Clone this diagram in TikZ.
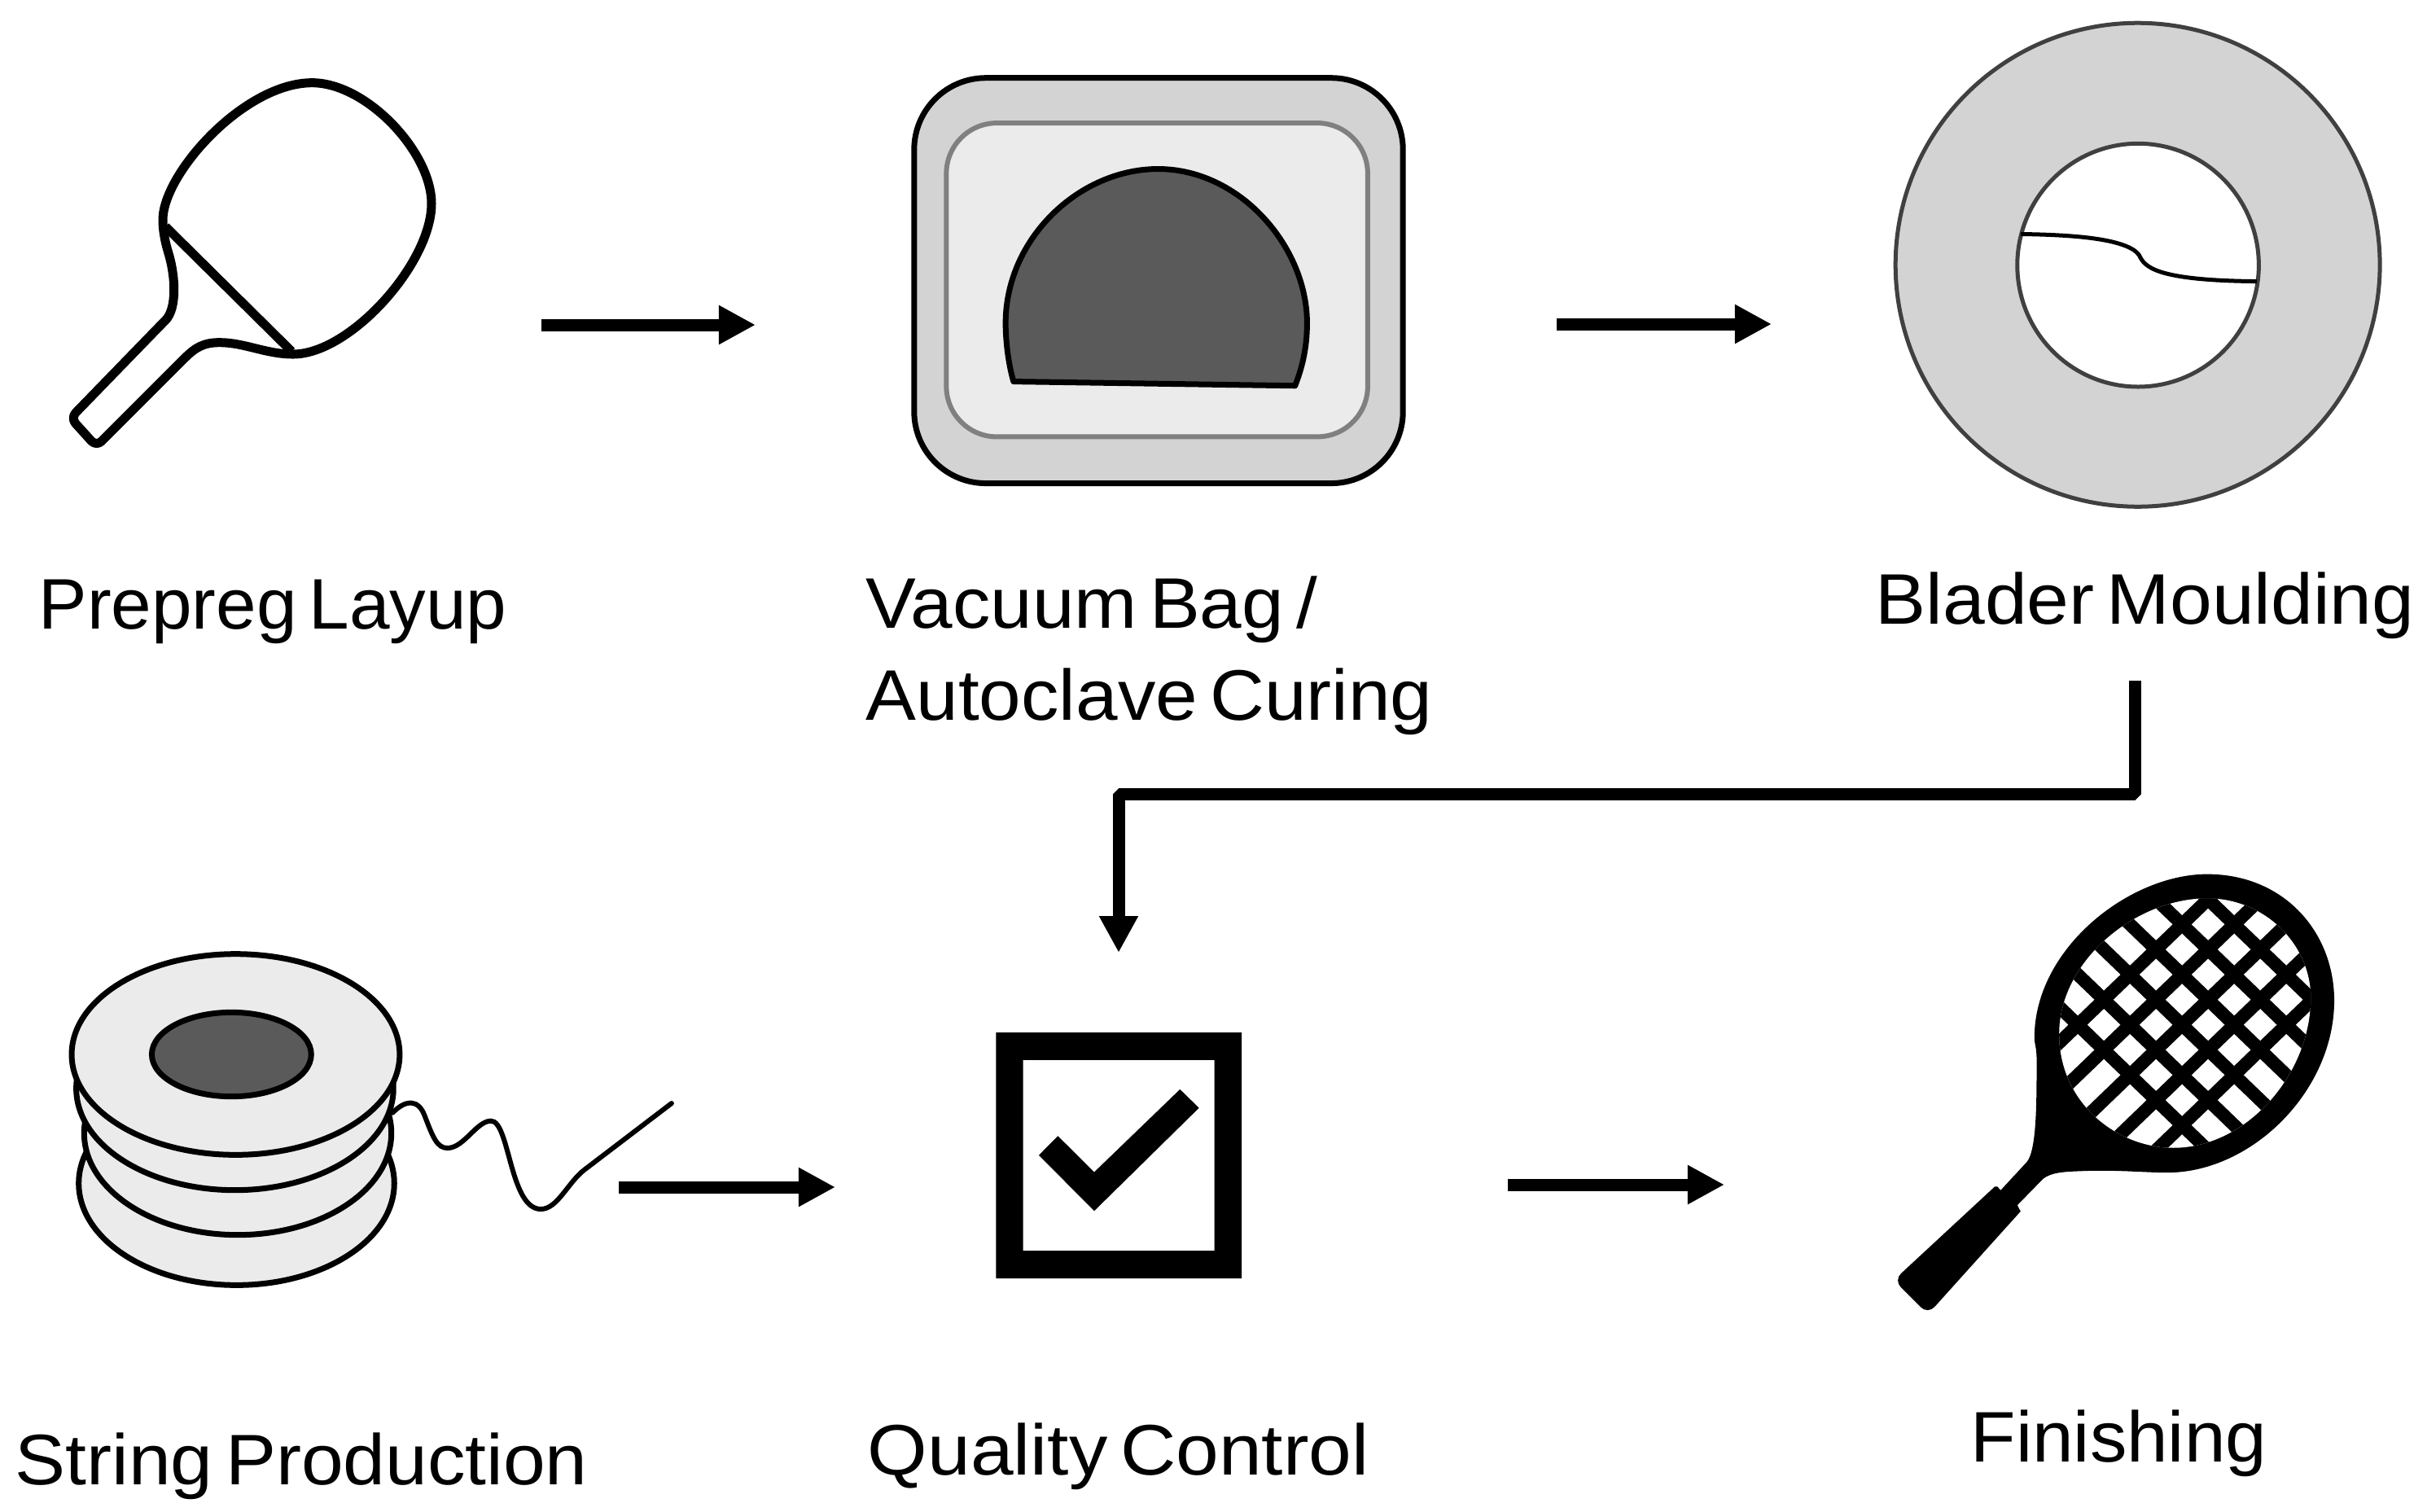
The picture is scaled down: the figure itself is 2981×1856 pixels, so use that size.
\documentclass[tikz,border=0pt]{standalone}
\usepackage{graphicx}
\usepackage{fontspec}
\setmainfont[WordSpace=0.6]{Liberation Sans}
\usetikzlibrary{arrows.meta}
\definecolor{ringgrey}{HTML}{D3D3D3}
\definecolor{palegrey}{HTML}{EBEBEB}
\definecolor{darkfill}{HTML}{5A5A5A}
\definecolor{midline}{HTML}{808080}
\definecolor{ringline}{HTML}{404040}
\newcommand{\lblwide}[2]{\scalebox{#1}[1]{#2}}
\tikzset{
  flowarrow/.style={line width=0.15cm,-{Triangle[length=0.45cm,width=0.45cm]}},
  label/.style={anchor=base west,inner sep=0pt,font=\fontsize{25}{32}\selectfont},
  outline/.style={draw=black,line join=round},
}
\begin{document}
\begin{tikzpicture}[x=0.01cm,y=-0.01cm]
\useasboundingbox (0,0) rectangle (2981,1856);
\fill[white] (0,0) rectangle (2981,1856);

% Prepreg paddle
\begin{scope}[shift={(50,70)},x={0.01cm/3},y={-0.01cm/3}]
\draw[outline,line width=0.11cm] (440,990) .. controls (505,925) and (495,800) .. (470,720) .. controls (458,680) and (450,640) .. (450,600)
 .. controls (450,430) and (750,95) .. (1000,95)
 .. controls (1200,95) and (1440,350) .. (1440,540)
 .. controls (1440,760) and (1140,1095) .. (930,1095)
 .. controls (830,1095) and (750,1052) .. (660,1052)
 .. controls (600,1052) and (570,1070) .. (530,1110)
 [rounded corners=0.09cm] -- (205,1435) -- (110,1330) -- cycle;
\draw[line width=0.11cm] (460,625) -- (925,1085);
\end{scope}

% Vacuum bag
\begin{scope}[shift={(1090,68)},x={0.01cm/2.376},y={-0.01cm/2.888}]
\draw[fill=ringgrey,line width=0.07cm,rounded corners=0.88cm] (78,80) rectangle (1505,1518);
\draw[draw=midline,fill=palegrey,line width=0.06cm,rounded corners=0.62cm] (172,240) rectangle (1402,1353);
\draw[outline,fill=darkfill,line width=0.07cm] (368,1157) .. controls (352,1090) and (345,1010) .. (345,950)
 .. controls (345,650) and (560,403) .. (790,403)
 .. controls (1030,403) and (1225,680) .. (1225,950)
 .. controls (1225,1040) and (1210,1110) .. (1190,1172) -- cycle;
\end{scope}

% Bladder moulding ring
\begin{scope}[shift={(2300,0)},x={0.01cm/2.306},y={-0.01cm/2.41}]
\draw[fill=ringgrey,draw=ringline,line width=0.05cm] (751,784) ellipse [x radius=686,y radius=716];
\draw[fill=white,draw=ringline,line width=0.05cm] (752,785) ellipse [x radius=342,y radius=360];
\draw[line width=0.05cm] (420,693) .. controls (560,695) and (720,705) .. (755,755) .. controls (770,790) and (800,830) .. (1088,833);
\end{scope}

% String spool
\begin{scope}[shift={(60,1140)},x={0.01cm/1.96},y={-0.01cm/3}]
\draw[fill=palegrey,line width=0.07cm] (452,940) ellipse [x radius=380,y radius=375];
\draw[fill=palegrey,line width=0.07cm] (455,755) ellipse [x radius=370,y radius=375];
\draw[fill=palegrey,line width=0.07cm] (448,590) ellipse [x radius=382,y radius=375];
\draw[fill=palegrey,line width=0.07cm] (450,465) ellipse [x radius=395,y radius=370];
\draw[fill=darkfill,line width=0.07cm] (440,465) ellipse [x radius=192,y radius=155];
\draw[line width=0.06cm,line cap=round] (828,680) .. controls (860,630) and (890,630) .. (905,690)
 .. controls (925,770) and (935,810) .. (960,810)
 .. controls (1000,810) and (1030,710) .. (1065,710)
 .. controls (1110,710) and (1110,1035) .. (1185,1035)
 .. controls (1225,1035) and (1250,937) .. (1290,890)
 -- (1500,645);
\end{scope}

% Quality control check box
\begin{scope}[shift={(1200,950)},x={0.01cm/3},y={-0.01cm/2.41}]
\fill[even odd rule] (70,767) rectangle (975,1495) (170,848) rectangle (875,1413);
\fill (228,1130) -- (298,1073) -- (432,1180) -- (748,935) -- (818,990) -- (432,1295) -- cycle;
\end{scope}

% Finished racket
\begin{scope}[shift={(2300,1050)},x={0.01cm/2.53},y={-0.01cm/2.627}]
\fill (480,990) .. controls (510,950) and (510,800) .. (510,660) .. controls (510,620) and (503,610) .. (503,590)
 .. controls (503,300) and (800,62) .. (1040,62)
 .. controls (1280,62) and (1435,250) .. (1435,470)
 .. controls (1435,760) and (1180,1025) .. (915,1025)
 .. controls (850,1025) and (750,1015) .. (650,1020)
 .. controls (590,1022) and (555,1025) .. (530,1045)
 -- (450,1130) -- (460,1150) [rounded corners=0.12cm] -- (172,1482) -- (66,1372) [sharp corners] -- (380,1070) -- (388,1070) -- (398,1082) -- cycle;
\begin{scope}
\path[clip] (1040,140) .. controls (1220,140) and (1362,290) .. (1362,460)
 .. controls (1362,710) and (1160,945) .. (935,945)
 .. controls (760,945) and (580,800) .. (580,578)
 .. controls (580,340) and (820,140) .. (1040,140) -- cycle;
\fill[white] (500,100) rectangle (1450,1000);
\foreach \c in {1186,1348,1510,1672,1834} \draw[line width=0.16cm] (500,{\c-500}) -- (1450,{\c-1450});
\foreach \d in {90,252,414,576,738,900} \draw[line width=0.16cm] (500,{500-\d}) -- (1450,{1450-\d});
\end{scope}
\end{scope}

% Connector ends
\coordinate (layupOut) at (665,399);
\coordinate (bagIn) at (928,399);
\coordinate (bagOut) at (1912,398);
\coordinate (bladderIn) at (2176,398);
\coordinate (bladderOut) at (2622,836);
\coordinate (elbowA) at (2622,975);
\coordinate (elbowB) at (1374,975);
\coordinate (qcTop) at (1374,1170);
\coordinate (stringOut) at (760,1458);
\coordinate (qcLeft) at (1026,1458);
\coordinate (qcOut) at (1852,1455);
\coordinate (finishIn) at (2118,1455);

\draw[flowarrow] (layupOut) -- (bagIn);
\draw[flowarrow] (bagOut) -- (bladderIn);
\draw[flowarrow,line join=bevel] (bladderOut) -- (elbowA) -- (elbowB) -- (qcTop);
\draw[flowarrow] (stringOut) -- (qcLeft);
\draw[flowarrow] (qcOut) -- (finishIn);

% Labels
\node[label] (lLayup) at (47,772) {\lblwide{1.014}{Prepreg Layup}};
\node[label] (lBag) at (1063,771) {\lblwide{1.054}{Vacuum Bag /}};
\node[label] (lAuto) at (1063,884) {\lblwide{1.055}{Autoclave Curing}};
\node[label] (lBlader) at (2303,766) {\lblwide{1.058}{Blader Moulding}};
\node[label] (lString) at (18,1823) {\lblwide{1.058}{String Production}};
\node[label] (lQC) at (1065,1811) {\lblwide{1.077}{Quality Control}};
\node[label] (lFinish) at (2420,1795) {\lblwide{1.033}{Finishing}};
\end{tikzpicture}
\end{document}
